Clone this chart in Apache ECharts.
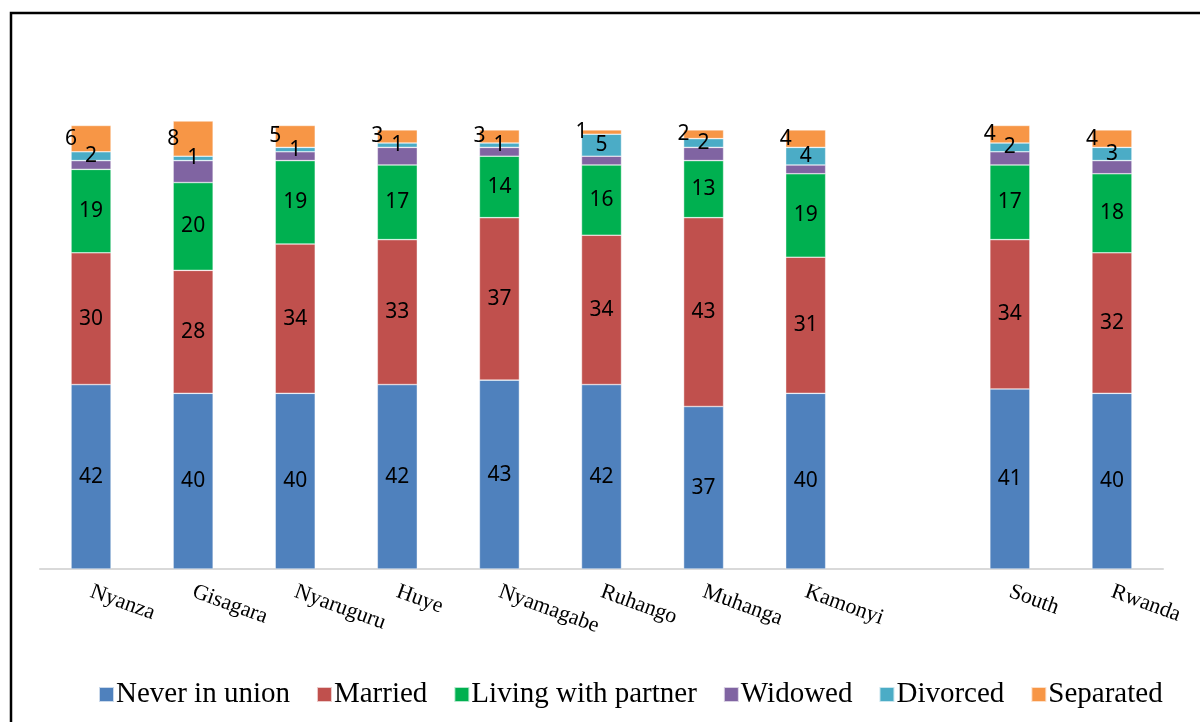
<!DOCTYPE html>
<html>
<head>
<meta charset="utf-8">
<title>Marital status</title>
<script src="https://cdn.jsdelivr.net/npm/echarts@6/dist/echarts.min.js"></script>
<style>
	html, body { margin: 0; padding: 0; background: #fff; }
	#chart { width: 1200px; height: 722px; }
</style>
</head>
<body>
<div id="chart"></div>
<script>
const categories = ['Nyanza', 'Gisagara', 'Nyaruguru', 'Huye', 'Nyamagabe', 'Ruhango', 'Muhanga', 'Kamonyi', '', 'South', 'Rwanda'];
const seriesNames = ['Never in union', 'Married', 'Living with partner', 'Widowed', 'Divorced', 'Separated'];
const neverInUnion = [42, 40, 40, 42, 43, 42, 37, 40, null, 41, 40];
const married = [30, 28, 34, 33, 37, 34, 43, 31, null, 34, 32];
const livingWithPartner = [19, 20, 19, 17, 14, 16, 13, 19, null, 17, 18];
const widowed = [2, 5, 2, 4, 2, 2, 3, 2, null, 3, 3];
const divorced = [2, 1, 1, 1, 1, 5, 2, 4, null, 2, 3];
const separated = [6, 8, 5, 3, 3, 1, 2, 4, null, 4, 4];
const titleText = 'Figure 4.1: Percentage distribution of women 15-49 years by current marital status';

( function() {

	const colors = ['#4F81BD', '#C0504D', '#00B050', '#8064A2', '#4BACC6', '#F79646'];
	const values = [neverInUnion, married, livingWithPartner, widowed, divorced, separated];

	const labelFor = function( i ) {
		const base = {
			show: true,
			color: '#000',
			fontFamily: '"Noto Sans", sans-serif',
			fontSize: 21
		};
		if( i === 3 ) return { show: false }; // widowed has no labels
		if( i === 5 ) { // separated sits on the left edge of the bar
			return Object.assign(base, { position: [0, '50%'], align: 'center', verticalAlign: 'middle' });
		}
		return Object.assign(base, { position: 'inside' });
	}

	const buildSeries = function() {
		return seriesNames.map(function(name, i) {
			return {
				name: name,
				type: 'bar',
				stack: 'total',
				barWidth: 40,
				clip: false,
				itemStyle: { color: colors[i], borderColor: 'rgba(255,255,255,0.7)', borderWidth: 0.6 },
				label: labelFor(i),
				data: values[i]
			};
		});
	}

	const setupChart = function() {
		const el = document.getElementById('chart');
		const myChart = echarts.init(el);

		const option = {
			animation: false,
			backgroundColor: '#fff',
			color: colors,
			grid: { left: 40, right: 37, top: 42, bottom: 153 },
			legend: {
				data: seriesNames,
				bottom: 8,
				left: 93,
				icon: 'rect',
				itemWidth: 15,
				itemHeight: 15,
				itemGap: 26,
				textStyle: { fontFamily: '"Liberation Serif", "Times New Roman", serif', fontSize: 29, color: '#000', padding: [0, 0, 0, -3] }
			},
			xAxis: {
				type: 'category',
				data: categories,
				axisLine: { lineStyle: { color: '#d9d9d9', width: 2 } },
				axisTick: { show: false },
				axisLabel: {
					interval: 0,
					rotate: -20,
					margin: 22,
					color: '#000',
					fontFamily: '"Liberation Serif", "Times New Roman", serif',
					fontSize: 22
				}
			},
			yAxis: {
				type: 'value',
				min: 0,
				max: 120,
				show: false,
				splitLine: { show: false }
			},
			graphic: [
				{
					type: 'rect',
					shape: { x: 11, y: 13, width: 1200, height: 720 },
					style: { fill: 'none', stroke: '#000', lineWidth: 2.5 },
					silent: true
				},
				{
					type: 'text',
					left: 6,
					top: -22,
					style: { text: titleText, font: 'bold 22px "Liberation Serif", "Times New Roman", serif', fill: '#000' },
					silent: true
				}
			],
			series: buildSeries()
		};

		myChart.setOption(option);
		window.onresize = function() {
			myChart.resize();
		};
	}

	document.addEventListener("DOMContentLoaded", function() {
		setupChart();
	});

}() );
</script>
</body>
</html>
